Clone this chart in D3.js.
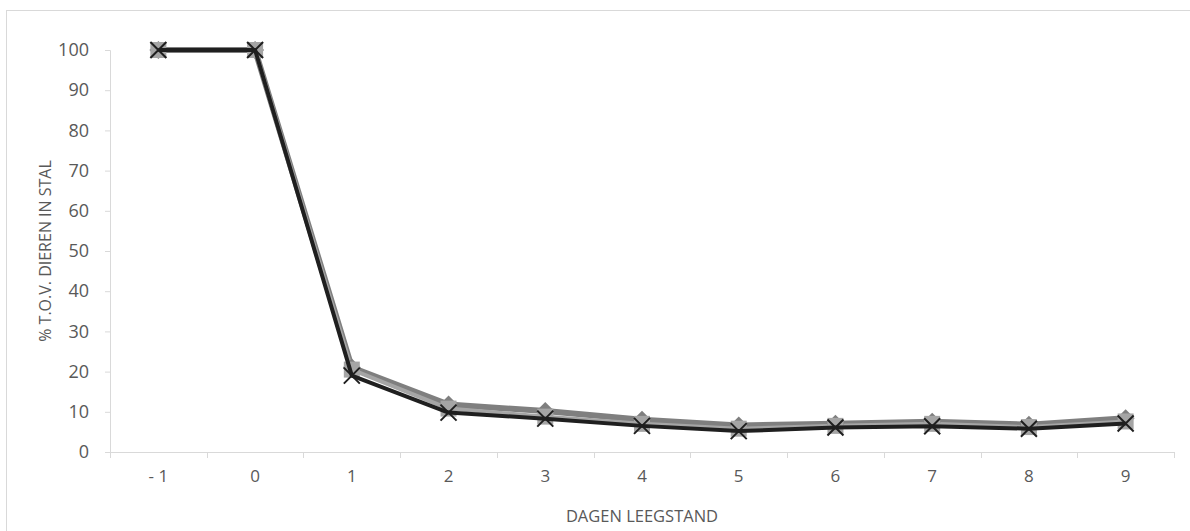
<!DOCTYPE html>
<html>
<head>
<meta charset="utf-8">
<script src="https://cdn.jsdelivr.net/npm/d3@7"></script>
<style>
  body { margin: 0; background: #fff; }
  svg { display: block; font-family: "Open Sans", sans-serif; }
</style>
</head>
<body>
<div id="chart"></div>
<script>
var days = ['-1', '0', '1', '2', '3', '4', '5', '6', '7', '8', '9'];
var seriesDiamond = [100, 100, 21, 11.8, 10.2, 8, 6.6, 7, 7.5, 6.8, 8.4];
var seriesSquare = [100, 100, 20.5, 10.8, 8.8, 7, 5.8, 6.5, 7, 6.2, 7.6];
var seriesCross = [100, 100, 19, 9.8, 8.3, 6.5, 5.2, 6.1, 6.4, 5.8, 7.1];
var yTicks = [0, 10, 20, 30, 40, 50, 60, 70, 80, 90, 100];

function draw() {
    'use strict';
    var width = 1190, height = 531;
    var left = 110, right = 1174, top = 50, bottom = 452;

    var svg = d3.select('#chart').append('svg')
        .attr('width', width)
        .attr('height', height);

    // chart area border
    svg.append('rect')
        .attr('x', 6.5).attr('y', 10.5)
        .attr('width', width).attr('height', height)
        .attr('fill', 'none')
        .attr('stroke', '#d9d9d9');

    var x = d3.scaleBand().domain(days).range([left, right]);
    var y = d3.scaleLinear().domain([0, 100]).range([bottom, top]);

    // y axis
    var yAxis = svg.append('g').attr('transform', 'translate(' + left + ',0)')
        .call(d3.axisLeft(y).tickValues(yTicks).tickSize(5).tickPadding(16));
    yAxis.select('.domain').attr('stroke', '#d9d9d9');
    yAxis.selectAll('.tick line').attr('stroke', '#d9d9d9');
    yAxis.selectAll('.tick text').attr('fill', '#595959').attr('font-size', 18)
        .attr('font-family', '"Open Sans", sans-serif');

    // x axis
    var xAxis = svg.append('g').attr('transform', 'translate(0,' + bottom + ')')
        .call(d3.axisBottom(x).tickSize(0).tickPadding(18)
            .tickFormat(function(d) { return d === '-1' ? '- 1' : d; }));
    xAxis.select('.domain').attr('stroke', '#d9d9d9').attr('d', 'M' + left + ',0.5H' + right);
    xAxis.selectAll('.tick text').attr('fill', '#595959').attr('font-size', 17)
        .attr('font-family', '"Open Sans", sans-serif');

    // category boundary ticks
    svg.append('g').selectAll('line')
        .data(days.concat(['end']))
        .join('line')
            .attr('x1', function(d, i) { return Math.round(left + i * x.step()) + 0.5; })
            .attr('x2', function(d, i) { return Math.round(left + i * x.step()) + 0.5; })
            .attr('y1', bottom)
            .attr('y2', bottom + 6)
            .attr('stroke', '#d9d9d9');

    // axis titles
    svg.append('text')
        .attr('transform', 'translate(51,' + ((top + bottom) / 2) + ') rotate(-90)')
        .attr('text-anchor', 'middle')
        .attr('fill', '#595959')
        .attr('font-size', 16)
        .text('% T.O.V. DIEREN IN STAL');

    svg.append('text')
        .attr('x', (left + right) / 2)
        .attr('y', 522)
        .attr('text-anchor', 'middle')
        .attr('fill', '#595959')
        .attr('font-size', 16.5)
        .text('DAGEN LEEGSTAND');

    var cx = function(d, i) { return x(days[i]) + x.bandwidth() / 2; };
    var line = d3.line().x(cx).y(function(d) { return y(d); });

    // series lines
    svg.append('path').datum(seriesDiamond)
        .attr('d', line).attr('fill', 'none')
        .attr('stroke', '#7f7f7f').attr('stroke-width', 6).attr('stroke-linejoin', 'round');
    svg.append('path').datum(seriesSquare)
        .attr('d', line).attr('fill', 'none')
        .attr('stroke', '#a5a5a5').attr('stroke-width', 4).attr('stroke-linejoin', 'round');

    // diamond markers
    svg.append('g').selectAll('path')
        .data(seriesDiamond)
        .join('path')
            .attr('transform', function(d, i) { return 'translate(' + cx(d, i) + ',' + y(d) + ')'; })
            .attr('d', 'M0,-9L9,0L0,9L-9,0Z')
            .attr('fill', '#7f7f7f');

    // square markers
    svg.append('g').selectAll('rect')
        .data(seriesSquare)
        .join('rect')
            .attr('x', function(d, i) { return cx(d, i) - 8; })
            .attr('y', function(d) { return y(d) - 8; })
            .attr('width', 16).attr('height', 16)
            .attr('fill', '#a5a5a5');

    svg.append('path').datum(seriesCross)
        .attr('d', line).attr('fill', 'none')
        .attr('stroke', '#1f1f1f').attr('stroke-width', 4).attr('stroke-linejoin', 'round');

    // cross markers
    svg.append('g').selectAll('path')
        .data(seriesCross)
        .join('path')
            .attr('transform', function(d, i) { return 'translate(' + cx(d, i) + ',' + y(d) + ')'; })
            .attr('d', 'M-8,-8L8,8M8,-8L-8,8')
            .attr('stroke', '#1f1f1f').attr('stroke-width', 2);
}

draw();
</script>
</body>
</html>
